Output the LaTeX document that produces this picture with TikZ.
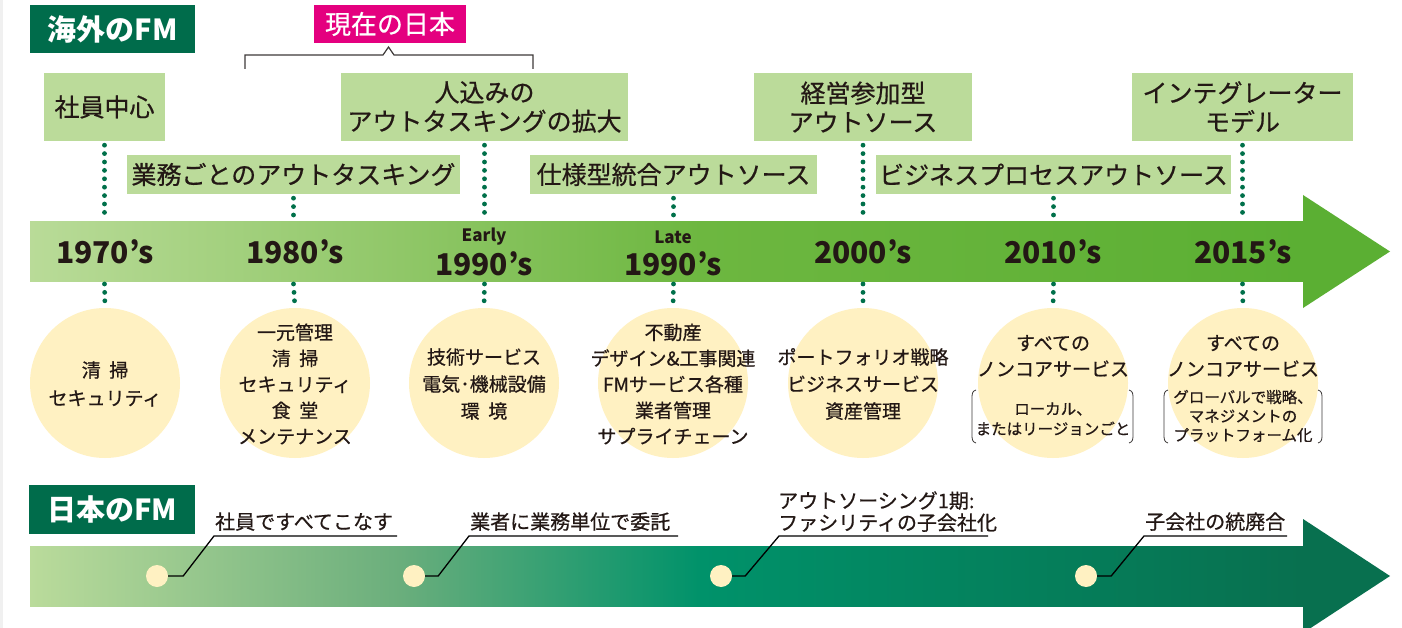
\documentclass[tikz,border=0pt]{standalone}
\usepackage{fontspec}
\setmainfont{Noto Sans CJK JP}[FakeBold=0.6]
\newfontfamily\yearfont{Noto Sans CJK JP}
\definecolor{txt}{HTML}{231815}
\definecolor{lab}{HTML}{BBDB9A}
\definecolor{dkg}{HTML}{006C4B}
\definecolor{mag}{HTML}{E4007F}
\definecolor{dotg}{HTML}{00704A}
\definecolor{cream}{HTML}{FFF1C2}
\definecolor{ga}{HTML}{B9DB98}
\definecolor{gb}{HTML}{90C768}
\definecolor{gc}{HTML}{6DB740}
\definecolor{gd}{HTML}{5BAF33}
\definecolor{ba}{HTML}{BADB9B}
\definecolor{bb}{HTML}{6AAE7C}
\definecolor{bc}{HTML}{00926A}
\definecolor{bd}{HTML}{08704F}
\definecolor{brk}{HTML}{3E3A39}
\begin{document}
\begin{tikzpicture}[x=1pt,y=-1pt,
  lbox/.style={fill=lab, inner sep=0pt, font=\fontsize{25}{29}\selectfont, text=txt, align=center},
  title/.style={fill=dkg, inner sep=0pt, text=white, font=\yearfont\fontsize{29}{29}\selectfont\bfseries},
  circ/.style={circle, fill=cream, minimum size=150pt, inner sep=0pt},
  ctext/.style={font=\fontsize{19}{26}\selectfont, align=center, text=txt, inner sep=0pt},
  csmall/.style={font=\fontsize{15.5}{19}\selectfont, align=center, text=txt, inner sep=0pt},
  year/.style={font=\yearfont\fontsize{30}{30}\selectfont\bfseries, text=txt, inner sep=0pt},
  early/.style={font=\yearfont\fontsize{17}{17}\selectfont\bfseries, text=txt, inner sep=0pt},
  dotl/.style={dotg, line width=4.8pt, line cap=round, dash pattern=on 0pt off 8.4pt},
  sdot/.style={circle, fill=cream, minimum size=22pt, inner sep=0pt},
  blab/.style={font=\fontsize{20}{22}\selectfont, text=txt, inner sep=0pt, anchor=south west, align=left},
  lead/.style={black, line width=1.3pt},
  paren/.style={brk, line width=0.8pt}
]
\useasboundingbox (0,0) rectangle (1402,628);
\clip (0,0) rectangle (1402,628);
\fill[white] (0,0) rectangle (1402,628);
\fill[black!6] (0,0) rectangle (3,628);

% titles
\node[title, minimum width=165pt, minimum height=48pt] (t1) at (112.5,29) {海外のFM};
\node[fill=mag, inner sep=0pt, text=white, font=\fontsize{26}{26}\selectfont, minimum width=152pt, minimum height=38pt] (now) at (390,24) {現在の日本};
\draw[brk, line width=1.2pt] (245,69) -- (245,55) -- (383,55) -- (388.5,47) -- (394,55) -- (533,55) -- (533,69);

% top arrow
\fill[left color=ga, right color=gb] (30,222) rectangle (400.5,281);
\fill[left color=gb, right color=gc] (400,222) rectangle (700.5,281);
\fill[left color=gc, right color=gd] (700,222) rectangle (1304,281);
\fill[gd] (1303,195) -- (1390,251.5) -- (1303,308) -- cycle;
\coordinate (atop) at (0,219);
\coordinate (abot) at (0,284);

% label boxes
\node[lbox, minimum width=121pt, minimum height=68pt] (b1) at (104.5,107) {社員中心};
\node[lbox, minimum width=287pt, minimum height=68pt] (b3) at (484.5,107) {人込みの\\アウトタスキングの拡大};
\node[lbox, minimum width=218pt, minimum height=68pt] (b5) at (863,107) {経営参加型\\アウトソース};
\node[lbox, minimum width=221pt, minimum height=68pt] (b7) at (1242.5,107) {インテグレーター\\モデル};
\node[lbox, minimum width=333pt, minimum height=39pt] (b2) at (293.5,174.5) {業務ごとのアウトタスキング};
\node[lbox, minimum width=287pt, minimum height=39pt] (b4) at (673.5,174.5) {仕様型統合アウトソース};
\node[lbox, minimum width=355pt, minimum height=39pt] (b6) at (1053.5,174.5) {ビジネスプロセスアウトソース};

% years
\node[year] (y1) at (105,252) {1970’s};
\node[year] (y2) at (295,252) {1980’s};
\node[early] (e3) at (484,237) {Early};
\node[year] (y3) at (484,264) {1990’s};
\node[early] (e4) at (673,237) {Late};
\node[year] (y4) at (673,264) {1990’s};
\node[year] (y5) at (863,252) {2000’s};
\node[year] (y6) at (1053,252) {2010’s};
\node[year] (y7) at (1243,252) {2015’s};

% circles
\node[circ] (c1) at (105,383) {};
\node[circ] (c2) at (295,383) {};
\node[circ] (c3) at (484,383) {};
\node[circ] (c4) at (673,383) {};
\node[circ] (c5) at (863,383) {};
\node[circ] (c6) at (1053,383) {};
\node[circ] (c7) at (1243,383) {};

% dotted connectors
\foreach \b/\c in {b1/c1,b2/c2,b3/c3,b4/c4,b5/c5,b6/c6,b7/c7}{
  \draw[dotl] ([yshift=-4pt]\b.south) -- (\b.south |- atop);
  \draw[dotl] (\b.south |- abot) -- ([yshift=-1pt]\c.north);
}

% circle texts
\node[ctext, font=\fontsize{19}{28}\selectfont] (x1) at (105,384) {清\hspace{0.45em}掃\\セキュリティ};
\node[ctext] (x2) at (295,384) {一元管理\\清\hspace{0.45em}掃\\セキュリティ\\食\hspace{0.45em}堂\\メンテナンス};
\node[ctext, font=\fontsize{19}{27}\selectfont] (x3) at (484,384) {技術サービス\\電気･機械設備\\環\hspace{0.45em}境};
\node[ctext] (x4) at (673,384) {不動産\\デザイン\&工事関連\\FMサービス各種\\業者管理\\サプライチェーン};
\node[ctext, font=\fontsize{19}{27}\selectfont] (x5) at (863,384) {ポートフォリオ戦略\\ビジネスサービス\\資産管理};
\node[ctext] (x6) at (1053,356) {すべての\\ノンコアサービス};
\node[csmall, font=\fontsize{15.5}{20}\selectfont] (s6) at (1053,419) {ローカル、\\またはリージョンごと};
\node[ctext] (x7) at (1243,356) {すべての\\ノンコアサービス};
\node[csmall] (s7) at (1243,416) {グローバルで戦略、\\マネジメントの\\プラットフォーム化};
% parentheses
\foreach \l/\r in {972/1133,1164/1322}{
  \draw[paren] (\l+4,390) .. controls (\l,391) and (\l,394) .. (\l,399) -- (\l,434) .. controls (\l,439) and (\l,442) .. (\l+4,443);
  \draw[paren] (\r-4,390) .. controls (\r,391) and (\r,394) .. (\r,399) -- (\r,434) .. controls (\r,439) and (\r,442) .. (\r-4,443);
}

% bottom section
\node[title, minimum width=166pt, minimum height=49pt] (t2) at (112,509.5) {日本のFM};
\fill[left color=ba, right color=bb] (30,546) rectangle (400.5,606);
\fill[left color=bb, right color=bc] (400,546) rectangle (700.5,606);
\fill[left color=bc, right color=bd] (700,546) rectangle (1304,606);
\fill[bd] (1303,519) -- (1390,576) -- (1303,633) -- cycle;

\node[sdot] (d1) at (157,576) {};
\node[sdot] (d2) at (414,576) {};
\node[sdot] (d3) at (721,576) {};
\node[sdot] (d4) at (1086,576) {};

\node[blab] (l1) at (215,531) {社員ですべてこなす};
\node[blab] (l2) at (470,531) {業者に業務単位で委託};
\node[blab] (l3) at (778,532) {アウトソーシング1期:\\ファシリティの子会社化};
\node[blab] (l4) at (1145,531) {子会社の統廃合};

\draw[lead] (d1.east) -- ++(15,0) -- (214,536) -- (397,536);
\draw[lead] (d2.east) -- ++(13,0) -- (469,536) -- (678,536);
\draw[lead] (d3.east) -- ++(13,0) -- (779,536) -- (988,536);
\draw[lead] (d4.east) -- ++(14,0) -- (1144,536) -- (1287,536);
\end{tikzpicture}
\end{document}
